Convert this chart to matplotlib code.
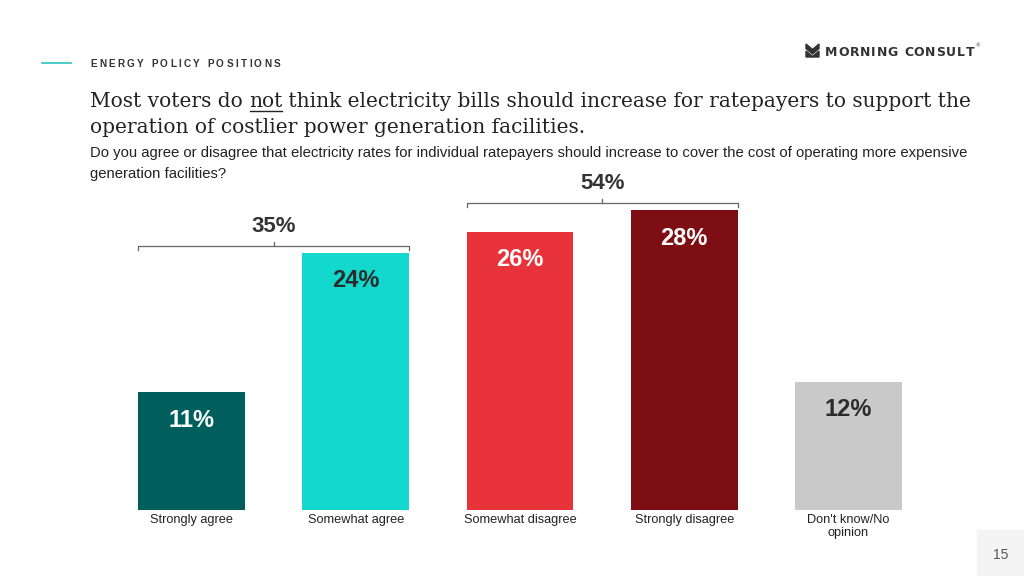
import matplotlib
matplotlib.use('Agg')
import matplotlib.pyplot as plt
from matplotlib.patches import Rectangle, Polygon

# 数据
categories = ['Strongly agree', 'Somewhat agree', 'Somewhat disagree',
              'Strongly disagree', "Don't know/No\nopinion"]
values = [11, 24, 26, 28, 12]
value_labels = ['11%', '24%', '26%', '28%', '12%']
bar_colors = ['#005f5d', '#12d8cd', '#e8333b', '#7d0f14', '#c9c9c9']
label_colors = ['white', '#2b2b2b', 'white', 'white', '#2b2b2b']
net_groups = [(0, 1), (2, 3)]
net_values = ['35%', '54%']

W, H = 1024, 576
fig = plt.figure(figsize=(W / 100, H / 100), dpi=100)
fig.patch.set_facecolor('white')


def fx(px):
    return px / W


def fy(py):
    return 1 - py / H


# 主图区域
ax = fig.add_axes([fx(109.5), fy(510), fx(821), (510 - 189) / H])
x = list(range(len(categories)))
bw = 0.65
ax.bar(x, values, width=bw, color=bar_colors, zorder=2)
ax.set_xlim(-0.5, 4.5)
ax.set_ylim(0, 30)
ax.axis('off')

for xi, v, lab, c in zip(x, values, value_labels, label_colors):
    ax.annotate(lab, (xi, v), xytext=(0, -20), textcoords='offset points',
                ha='center', va='center', fontsize=17, fontweight='bold',
                color=c, family='Liberation Sans')

for xi, cat in zip(x, categories):
    ax.annotate(cat, (xi, 0), xytext=(0, -3), textcoords='offset points',
                ha='center', va='top', fontsize=9.2, color='#222222',
                family='Liberation Sans', linespacing=1.05)

# 括号（NET）
for (a, b), net in zip(net_groups, net_values):
    top = max(values[a], values[b])
    yb = top + 0.65
    x0, x1 = a - bw / 2, b + bw / 2
    xm = (x0 + x1) / 2
    ax.plot([x0, x0, x1, x1], [yb - 0.35, yb, yb, yb - 0.35],
            color='#666666', lw=0.9, clip_on=False)
    ax.plot([xm, xm], [yb, yb + 0.4], color='#666666', lw=0.9, clip_on=False)
    ax.text(xm, yb + 1.85, net, ha='center', va='center', fontsize=16,
            fontweight='bold', color='#333333', family='Liberation Sans',
            clip_on=False)

fig.canvas.draw()
renderer = fig.canvas.get_renderer()


def text_run(x_px, y_px, pieces, **kw):
    """依次绘制文字片段，返回每段的像素范围"""
    spans = []
    cur = x_px
    for s in pieces:
        t = fig.text(fx(cur), fy(y_px), s, ha='left', va='baseline', **kw)
        bb = t.get_window_extent(renderer)
        spans.append((cur, cur + bb.width))
        cur += bb.width
    return spans


def spaced(x_px, y_px, s, track, **kw):
    cur = x_px
    for ch in s:
        t = fig.text(fx(cur), fy(y_px), ch, ha='left', va='baseline', **kw)
        cur += t.get_window_extent(renderer).width + track
    return cur


# 顶部标题
fig.add_artist(plt.Line2D([fx(42), fx(71)], [fy(63), fy(63)],
                          color='#2ec4c0', lw=1.2))
spaced(90, 67, 'ENERGY POLICY POSITIONS', 2.35, fontsize=7.2,
       fontweight='bold', color='#333333', family='Liberation Sans')

title_kw = dict(fontsize=14.5, color='#222222', family='DejaVu Serif')
spans = text_run(90, 107, ['Most voters do ', 'not',
                           ' think electricity bills should increase for '
                           'ratepayers to support the'], **title_kw)
ux0, ux1 = spans[1]
fig.add_artist(plt.Line2D([fx(ux0 + 1), fx(ux1 - 1)], [fy(111), fy(111)],
                          color='#222222', lw=1.0))
text_run(90, 133, ['operation of costlier power generation facilities.'],
         **title_kw)

sub_kw = dict(fontsize=10.7, color='#222222', family='Liberation Sans')
text_run(90, 157, ['Do you agree or disagree that electricity rates for '
                   'individual ratepayers should increase to cover the cost '
                   'of operating more expensive'], **sub_kw)
text_run(90, 178, ['generation facilities?'], **sub_kw)

# 标志
icon_top = [(806, 44), (812.5, 49.5), (819, 44), (819, 48.5),
            (812.5, 54), (806, 48.5)]
icon_bot = [(806, 51), (812.5, 56.5), (819, 51), (819, 57), (812.5, 57),
            (806, 57)]
for poly in (icon_top, icon_bot):
    fig.add_artist(Polygon([(fx(a), fy(b)) for a, b in poly], closed=True,
                           color='#333333', transform=fig.transFigure))
end = spaced(825, 55.5, 'MORNING CONSULT', 0.8, fontsize=9.0,
             fontweight='bold', color='#333333', family='DejaVu Sans')
fig.text(fx(end), fy(47), '®', fontsize=3.5, color='#333333')

# 页码
fig.add_artist(Rectangle((fx(977), 0), fx(47), 46 / H, color='#f4f4f4',
                         transform=fig.transFigure, zorder=0))
fig.text(fx(1001), fy(555), '15', ha='center', va='center', fontsize=10,
         color='#555555', family='Liberation Sans')

fig.savefig('out.png', dpi=100, facecolor='white')
